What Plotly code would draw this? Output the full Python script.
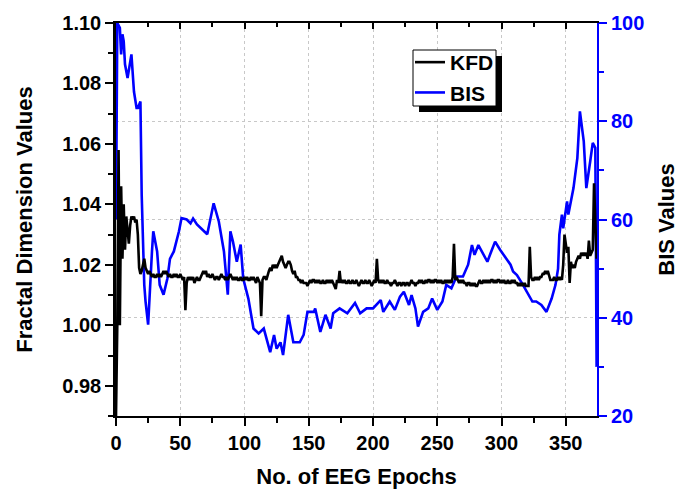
import plotly.graph_objects as go

# KFD value for each EEG epoch (epochs 0..374)
kfd = [
    0.970, 1.000, 1.058, 1.000, 1.046, 1.022, 1.040, 1.025, 1.036, 1.031, 1.027, 1.033, 1.036, 1.035, 1.036, 1.034, 1.035, 1.030, 1.019, 1.017, 1.018, 1.020, 1.022, 1.019, 1.018,
    1.017, 1.018, 1.017, 1.016, 1.017, 1.016, 1.016, 1.017, 1.016, 1.017, 1.016, 1.017, 1.018, 1.017, 1.018, 1.017, 1.016, 1.017, 1.016, 1.016, 1.017, 1.016, 1.017, 1.016, 1.016,
    1.017, 1.016, 1.015, 1.016, 1.005, 1.014, 1.016, 1.015, 1.016, 1.015, 1.016, 1.014, 1.015, 1.016, 1.015, 1.015, 1.016, 1.017, 1.018, 1.017, 1.018, 1.016, 1.017, 1.016, 1.016,
    1.017, 1.016, 1.015, 1.016, 1.016, 1.015, 1.016, 1.017, 1.016, 1.016, 1.015, 1.016, 1.015, 1.016, 1.017, 1.016, 1.015, 1.016, 1.015, 1.016, 1.015, 1.015, 1.016, 1.015, 1.015,
    1.016, 1.015, 1.016, 1.015, 1.015, 1.016, 1.015, 1.016, 1.015, 1.014, 1.016, 1.015, 1.014, 1.003, 1.015, 1.016, 1.016, 1.015, 1.017, 1.018, 1.019, 1.018, 1.020, 1.019, 1.020,
    1.019, 1.020, 1.021, 1.022, 1.023, 1.021, 1.020, 1.019, 1.020, 1.021, 1.021, 1.020, 1.018, 1.017, 1.018, 1.016, 1.016, 1.015, 1.015, 1.014, 1.015, 1.014, 1.014, 1.014, 1.013,
    1.014, 1.015, 1.014, 1.015, 1.015, 1.014, 1.015, 1.014, 1.015, 1.014, 1.014, 1.015, 1.014, 1.014, 1.015, 1.014, 1.015, 1.014, 1.015, 1.014, 1.013, 1.012, 1.015, 1.014, 1.018,
    1.014, 1.015, 1.014, 1.015, 1.014, 1.014, 1.015, 1.014, 1.014, 1.015, 1.014, 1.014, 1.015, 1.014, 1.013, 1.014, 1.015, 1.014, 1.014, 1.015, 1.014, 1.014, 1.015, 1.014, 1.013,
    1.014, 1.015, 1.014, 1.022, 1.015, 1.014, 1.015, 1.014, 1.015, 1.014, 1.014, 1.015, 1.014, 1.014, 1.013, 1.014, 1.014, 1.015, 1.014, 1.013, 1.014, 1.014, 1.013, 1.014, 1.014,
    1.013, 1.014, 1.014, 1.013, 1.014, 1.015, 1.014, 1.014, 1.013, 1.014, 1.014, 1.015, 1.014, 1.015, 1.014, 1.014, 1.015, 1.014, 1.015, 1.015, 1.014, 1.015, 1.014, 1.015, 1.015,
    1.014, 1.015, 1.014, 1.015, 1.014, 1.014, 1.015, 1.014, 1.015, 1.014, 1.015, 1.014, 1.016, 1.027, 1.015, 1.016, 1.015, 1.014, 1.015, 1.014, 1.015, 1.014, 1.014, 1.013, 1.014,
    1.014, 1.013, 1.014, 1.013, 1.014, 1.013, 1.013, 1.014, 1.015, 1.014, 1.014, 1.015, 1.014, 1.015, 1.014, 1.015, 1.014, 1.015, 1.015, 1.014, 1.015, 1.014, 1.015, 1.015, 1.014,
    1.015, 1.014, 1.015, 1.014, 1.014, 1.015, 1.014, 1.014, 1.015, 1.014, 1.015, 1.014, 1.014, 1.013, 1.014, 1.013, 1.014, 1.013, 1.014, 1.013, 1.013, 1.013, 1.026, 1.016, 1.015,
    1.015, 1.016, 1.015, 1.016, 1.015, 1.016, 1.016, 1.017, 1.017, 1.018, 1.017, 1.018, 1.016, 1.015, 1.015, 1.015, 1.016, 1.015, 1.015, 1.016, 1.015, 1.016, 1.015, 1.020, 1.030,
    1.027, 1.024, 1.026, 1.014, 1.021, 1.019, 1.020, 1.019, 1.021, 1.022, 1.023, 1.022, 1.024, 1.023, 1.024, 1.023, 1.024, 1.022, 1.028, 1.023, 1.024, 1.025, 1.047, 1.030, 1.022,
]
kfd_epoch = list(range(len(kfd)))

# BIS readings (epoch, value)
bis_epoch = [0, 1, 2, 3, 4, 5, 6, 7, 9, 11, 12, 14, 16, 17, 19, 20, 22, 23, 25, 28,
             29, 32, 34, 37, 40, 42, 45, 49, 51, 55, 58, 60, 63, 71, 76, 80, 84, 87, 89, 91,
             94, 97, 99, 103, 107, 111, 115, 120, 123, 125, 128, 130, 134, 138, 143, 146, 149, 154, 155, 159,
             163, 167, 169, 174, 180, 186, 190, 195, 200, 206, 208, 213, 217, 221, 224, 228, 230, 233, 235, 239,
             243, 246, 250, 254, 257, 261, 265, 270, 274, 277, 279, 282, 286, 289, 292, 295, 299, 303, 307, 309,
             312, 316, 318, 321, 324, 327, 331, 335, 339, 342, 344, 345, 347, 348, 351, 352, 356, 359, 361, 364,
             366, 369, 371, 373, 374]
bis_value = [60, 100, 99.5, 99, 93.6, 97.7, 96.3, 91.6, 88.8, 91.6, 93.6, 86, 82.7, 82.7, 84, 65, 46.7, 43.3, 38.6, 53.5,
             57.6, 53.5, 46.7, 44.7, 48, 52, 53.5, 57.6, 60.3, 60, 59.2, 60.2, 59, 57, 63.3, 59.6, 53.5, 44.7, 57.6, 55.5,
             51.4, 54.9, 48, 43.9, 37.8, 36.8, 37.8, 33, 36.5, 33.7, 35, 32.4, 40.6, 35, 35, 36.5, 41.2, 41.2, 41.9, 37.1,
             40.6, 37.8, 40.9, 41.9, 40.9, 43, 40.9, 41.9, 41.9, 43.6, 41.2, 43.3, 41.6, 44.3, 45.3, 42.6, 44.6, 41.9, 38.2, 41.2,
             41.9, 43.9, 41.6, 43.3, 46.7, 46, 48.4, 48.4, 50.8, 54.8, 52.8, 54.8, 52.8, 51.4, 53.5, 55.5, 53.8, 52.4, 50.8, 49.4,
             48.7, 47, 46, 44.6, 43.3, 43.3, 42.6, 41.2, 43.9, 46.7, 50, 56.9, 61, 58.2, 63.7, 61, 66.4, 72.5, 82, 75.9,
             66.4, 71.8, 75.6, 74.6, 30]

x_range = [0, 374.3]
fd_range = [0.97, 1.10]
bis_range = [20, 100]

FONT = "Liberation Sans, Arial, sans-serif"
BLUE = "#0000FF"

# plot area in pixels (for legend box placement)
L, R, T, B = 116, 597, 23, 416
def px(xp):
    return (xp - L) / (R - L)
def py(yp):
    return (B - yp) / (B - T)

fig = go.Figure()
fig.add_trace(go.Scatter(x=bis_epoch, y=bis_value, name="BIS", mode="lines",
                         line=dict(color=BLUE, width=2.6), yaxis="y", legendrank=2))
fig.add_trace(go.Scatter(x=kfd_epoch, y=kfd, name="KFD", mode="lines",
                         line=dict(color="black", width=2.6), yaxis="y2", legendrank=1))
# invisible helper so the top mirror axis is drawn
fig.add_trace(go.Scatter(x=kfd_epoch, y=kfd, xaxis="x2", yaxis="y2", mode="lines",
                         line=dict(width=0), opacity=0, showlegend=False, hoverinfo="skip"))

tickfont = dict(family=FONT, size=20, color="black", weight="bold")
titlefont = dict(family=FONT, size=22, color="black", weight="bold")

fig.update_layout(
    width=691, height=491,
    margin=dict(l=L, r=691 - R, t=T, b=491 - B, autoexpand=False),
    paper_bgcolor="white", plot_bgcolor="white",
    showlegend=True,
    legend=dict(x=px(410), y=py(42), xanchor="left", yanchor="top",
                bgcolor="rgba(0,0,0,0)", borderwidth=0,
                font=dict(family=FONT, size=21, color="black", weight="bold"),
                itemwidth=30, tracegroupgap=0),
    xaxis=dict(range=x_range, dtick=50, tick0=0, ticks="outside", ticklen=8, tickwidth=1.5,
               tickcolor="black", showline=True, linecolor="black", linewidth=2,
               showgrid=True, gridcolor="#c8c8c8", griddash="dot", gridwidth=1,
               zeroline=False, tickfont=tickfont, automargin=False,
               minor=dict(dtick=25, ticks="outside", ticklen=5, tickwidth=1.5, tickcolor="black", showgrid=False),
               title=dict(text="No. of EEG Epochs", font=titlefont, standoff=16)),
    xaxis2=dict(range=x_range, overlaying="x", side="top", anchor="y2", dtick=50, tick0=0,
                ticks="inside", ticklen=6, tickwidth=1.5, tickcolor="black", automargin=False,
                showline=True, linecolor="black", linewidth=1.5, showgrid=False, zeroline=False,
                showticklabels=False,
                minor=dict(dtick=25, ticks="inside", ticklen=4, tickwidth=1.5, tickcolor="black", showgrid=False)),
    yaxis=dict(range=bis_range, side="right", dtick=20, tick0=20, ticks="outside", ticklen=8,
               tickwidth=1.5, tickcolor=BLUE, showline=True, linecolor=BLUE, linewidth=2,
               showgrid=True, gridcolor="#c8c8c8", griddash="dot", gridwidth=1, zeroline=False,
               tickfont=dict(family=FONT, size=20, color=BLUE, weight="bold"), automargin=False,
               minor=dict(dtick=10, ticks="outside", ticklen=5, tickwidth=1.5, tickcolor=BLUE, showgrid=False),
               title=dict(text="BIS Values", font=titlefont, standoff=15)),
    yaxis2=dict(range=fd_range, overlaying="y", side="left", anchor="x", dtick=0.02, tick0=0.98,
                tickformat=".2f", ticks="outside", ticklen=8, tickwidth=1.5, tickcolor="black",
                showline=True, linecolor="black", linewidth=2.5, showgrid=False, zeroline=False,
                tickfont=tickfont, automargin=False,
                minor=dict(dtick=0.01, tick0=0.97, ticks="outside", ticklen=5, tickwidth=1.5, tickcolor="black", showgrid=False),
                title=dict(text="Fractal Dimension Values", font=titlefont, standoff=24)),
)

# legend frame with drop shadow
fig.add_shape(type="rect", xref="paper", yref="paper", layer="above",
              x0=px(419), x1=px(502), y0=py(112), y1=py(56),
              fillcolor="black", line=dict(width=0))
fig.add_shape(type="rect", xref="paper", yref="paper", layer="above",
              x0=px(413), x1=px(496), y0=py(106), y1=py(50),
              fillcolor="white", line=dict(color="black", width=1))

fig.write_html("out.html", config={"displayModeBar": False},
               post_script="document.body.style.margin='0';document.body.style.overflow='hidden';")
